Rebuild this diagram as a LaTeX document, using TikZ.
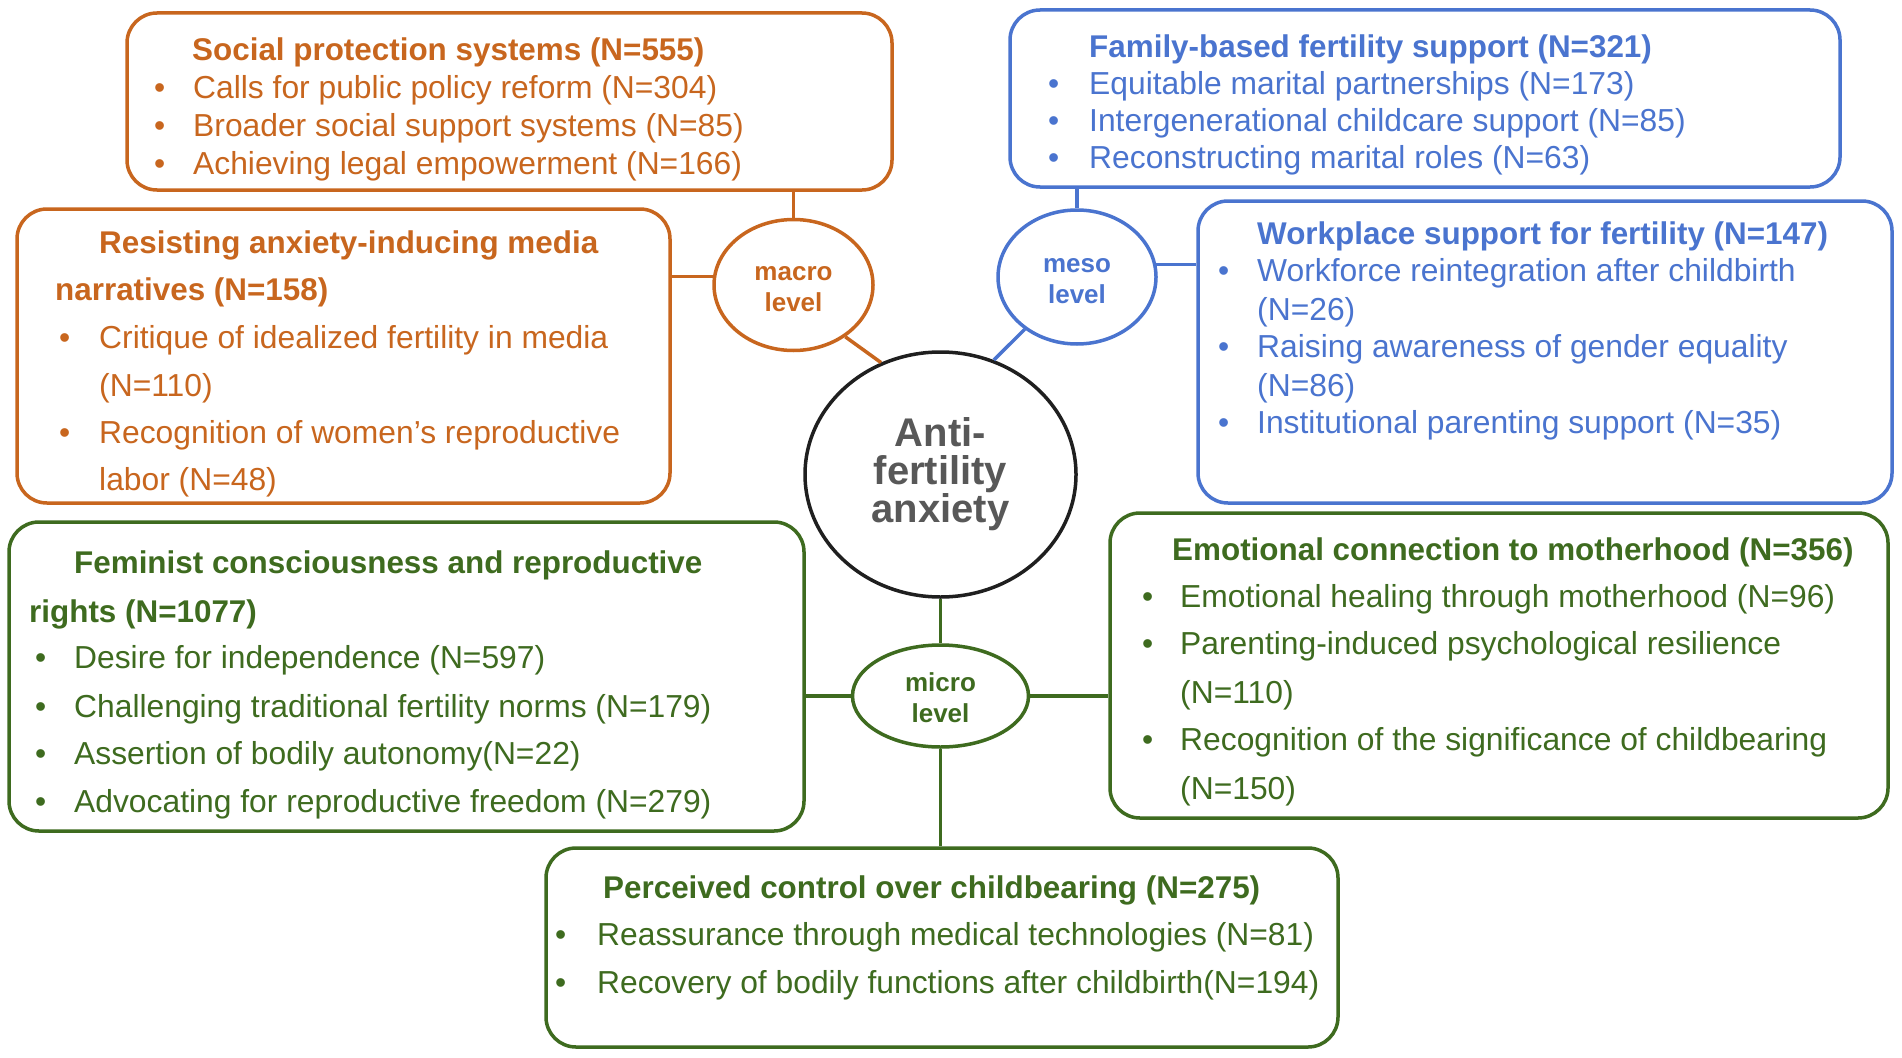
\documentclass[tikz,border=0pt]{standalone}
\usepackage{fontspec}
\setmainfont{Liberation Sans}
\usetikzlibrary{shapes.geometric}
\definecolor{cor}{RGB}{200,102,30}
\definecolor{cbl}{RGB}{74,116,207}
\definecolor{cgr}{RGB}{62,107,31}
\definecolor{cgy}{RGB}{88,88,88}
\begin{document}
\begin{tikzpicture}[x=1pt,y=-1pt,
 box/.style={draw, rounded corners=30pt, line width=3.5pt, inner sep=0pt},
 lvl/.style={ellipse, draw, line width=3.5pt, inner sep=0pt, align=center, font=\fontsize{26}{31}\selectfont\bfseries},
 ttl/.style={anchor=base west, inner sep=0pt, font=\fontsize{31.4}{36}\selectfont\bfseries},
 itm/.style={anchor=base west, inner sep=0pt, font=\fontsize{31.8}{36}\selectfont},
 lnk/.style={line width=3.5pt},
]
\useasboundingbox (0,0) rectangle (1902,1057);
\fill[white] (0,0) rectangle (1902,1057);

% boxes
\node[box, cor, minimum width=765pt, minimum height=177pt] (b1) at (509.5,101.5) {};
\node[box, cbl, minimum width=830pt, minimum height=177pt] (b2) at (1425,98.5) {};
\node[box, cor, minimum width=653pt, minimum height=294pt] (b3) at (343.5,356) {};
\node[box, cbl, minimum width=694pt, minimum height=302pt] (b4) at (1545,352) {};
\node[box, cgr, minimum width=795pt, minimum height=309pt] (b5) at (406.5,676.5) {};
\node[box, cgr, minimum width=778pt, minimum height=305pt] (b6) at (1499,665.5) {};
\node[box, cgr, minimum width=792pt, minimum height=199pt] (b7) at (942,947.5) {};

% level ellipses and centre
\node[lvl, cor, minimum width=159pt, minimum height=131pt] (m1) at (793.5,285) {\strut macro\\level};
\node[lvl, cbl, minimum width=158pt, minimum height=134pt] (m2) at (1077,277) {\strut meso\\level};
\node[lvl, cgr, minimum width=176pt, minimum height=102pt] (m3) at (940.5,696) {\strut micro\\level};
\node[ellipse, draw=black!88, line width=3.5pt, inner sep=0pt, minimum width=271pt, minimum height=245pt, text=cgy, align=center, font=\fontsize{40}{38}\selectfont\bfseries] (c0) at (940.5,474.5) {Anti-\\fertility\\anxiety};

% connectors
\draw[lnk, cor] (m1.north) -- (m1.north |- b1.south);
\draw[lnk, cor] (m1.174) -- (b3.east |- m1.174);
\draw[lnk, cor] (m1.-45) -- (c0.118);
\draw[lnk, cbl] (m2.north) -- (m2.north |- b2.south);
\draw[lnk, cbl] (m2.9) -- (b4.west |- m2.9);
\draw[lnk, cbl] (m2.225) -- (c0.65);
\draw[lnk, cgr] (c0.south) -- (m3.north);
\draw[lnk, cgr] (m3.south) -- (m3.south |- b7.north);
\draw[lnk, cgr] (m3.west) -- (b5.east |- m3.west);
\draw[lnk, cgr] (m3.east) -- (b6.west |- m3.east);

% Social protection
\begin{scope}[cor]
\node[ttl] (st) at (192,60) {Social protection systems (N=555)};
\node[itm] (sd1) at (154,98) {•};
\node[itm] (s1) at (193,98) {Calls for public policy reform (N=304)};
\node[itm] (sd2) at (154,136) {•};
\node[itm] (s2) at (193,136) {Broader social support systems (N=85)};
\node[itm] (sd3) at (154,174) {•};
\node[itm] (s3) at (193,174) {Achieving legal empowerment (N=166)};
\end{scope}

% Family
\begin{scope}[cbl]
\node[ttl] (ft) at (1089,57) {Family-based fertility support (N=321)};
\node[itm] (fd1) at (1048,94) {•};
\node[itm] (f1) at (1089,94) {Equitable marital partnerships (N=173)};
\node[itm] (fd2) at (1048,131) {•};
\node[itm] (f2) at (1089,131) {Intergenerational childcare support (N=85)};
\node[itm] (fd3) at (1048,168) {•};
\node[itm] (f3) at (1089,168) {Reconstructing marital roles (N=63)};
\end{scope}

% Resisting
\begin{scope}[cor]
\node[ttl] (rt1) at (99,253) {Resisting anxiety-inducing media};
\node[ttl] (rt2) at (55,300) {narratives (N=158)};
\node[itm] (rd1) at (59,348) {•};
\node[itm] (r1) at (99,348) {Critique of idealized fertility in media};
\node[itm] (r1b) at (99,396) {(N=110)};
\node[itm] (rd2) at (59,443) {•};
\node[itm] (r2) at (99,443) {Recognition of women's reproductive};
\node[itm] (r2b) at (99,490) {labor (N=48)};
\end{scope}

% Workplace
\begin{scope}[cbl]
\node[ttl] (wt) at (1257,244) {Workplace support for fertility (N=147)};
\node[itm] (wd1) at (1218,281) {•};
\node[itm] (w1) at (1257,281) {Workforce reintegration after childbirth};
\node[itm] (w1b) at (1257,320) {(N=26)};
\node[itm] (wd2) at (1218,357) {•};
\node[itm] (w2) at (1257,357) {Raising awareness of gender equality};
\node[itm] (w2b) at (1257,396) {(N=86)};
\node[itm] (wd3) at (1218,433) {•};
\node[itm] (w3) at (1257,433) {Institutional parenting support (N=35)};
\end{scope}

% Feminist
\begin{scope}[cgr]
\node[ttl] (et1) at (74,573) {Feminist consciousness and reproductive};
\node[ttl] (et2) at (29,622) {rights (N=1077)};
\node[itm] (ed1) at (35,668) {•};
\node[itm] (e1) at (74,668) {Desire for independence (N=597)};
\node[itm] (ed2) at (35,717) {•};
\node[itm] (e2) at (74,717) {Challenging traditional fertility norms (N=179)};
\node[itm] (ed3) at (35,764) {•};
\node[itm] (e3) at (74,764) {Assertion of bodily autonomy(N=22)};
\node[itm] (ed4) at (35,812) {•};
\node[itm] (e4) at (74,812) {Advocating for reproductive freedom (N=279)};
\end{scope}

% Emotional
\begin{scope}[cgr]
\node[ttl] (mt) at (1172,560) {Emotional connection to motherhood (N=356)};
\node[itm] (md1) at (1142,607) {•};
\node[itm] (mo1) at (1180,607) {Emotional healing through motherhood (N=96)};
\node[itm] (md2) at (1142,654) {•};
\node[itm] (mo2) at (1180,654) {Parenting-induced psychological resilience};
\node[itm] (mo2b) at (1180,703) {(N=110)};
\node[itm] (md3) at (1142,750) {•};
\node[itm] (mo3) at (1180,750) {Recognition of the significance of childbearing};
\node[itm] (mo3b) at (1180,799) {(N=150)};
\end{scope}

% Perceived
\begin{scope}[cgr]
\node[ttl] (pt) at (603,898) {Perceived control over childbearing (N=275)};
\node[itm] (pd1) at (555,945) {•};
\node[itm] (p1) at (597,945) {Reassurance through medical technologies (N=81)};
\node[itm] (pd2) at (555,993) {•};
\node[itm] (p2) at (597,993) {Recovery of bodily functions after childbirth(N=194)};
\end{scope}
\end{tikzpicture}
\end{document}
